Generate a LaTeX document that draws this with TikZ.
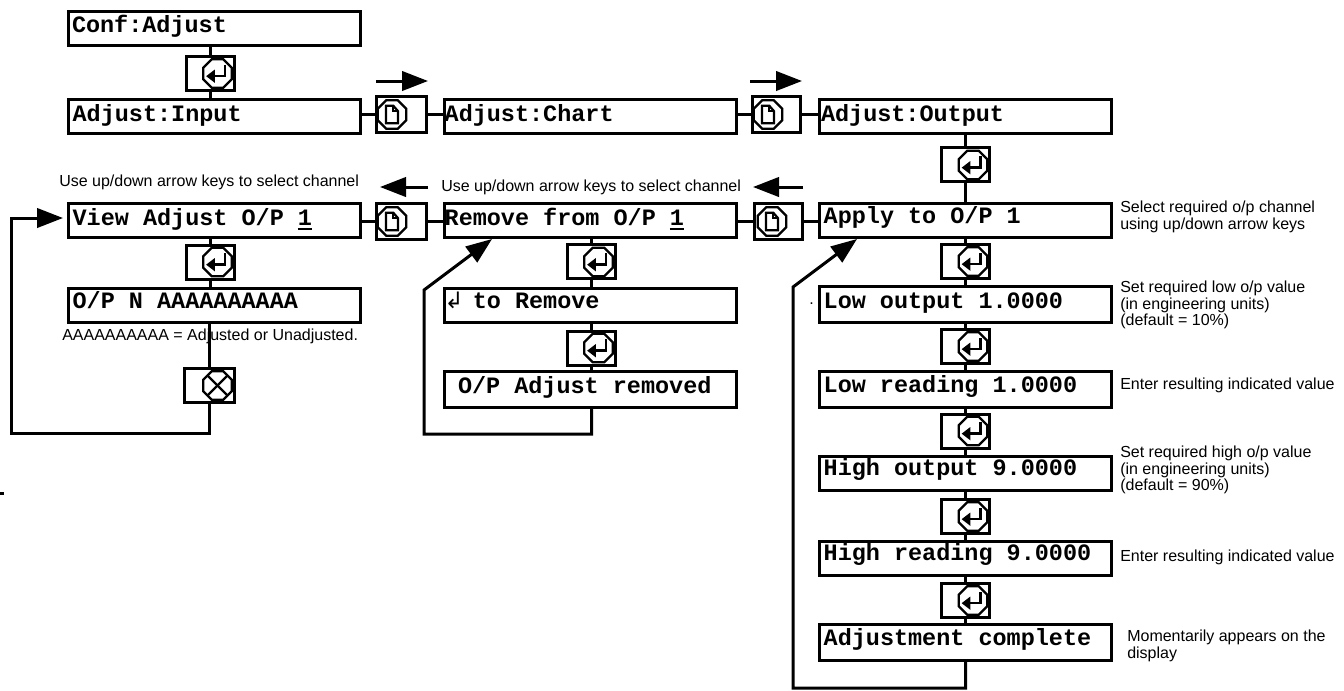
\documentclass[tikz,border=0pt]{standalone}
\usepackage{fontspec}
\setmainfont{Liberation Sans}
\setmonofont{Liberation Mono}
\newfontfamily\symfont{DejaVu Sans}
\usetikzlibrary{arrows.meta, shapes.geometric}
\newcommand{\chanone}{\rlap{\rule[-4pt]{10.5pt}{1.7pt}}1}
\begin{document}
\begin{tikzpicture}[
        x=0.75pt, y=-0.75pt,
        disp_box/.style={rectangle, draw=black, line width=2.25pt, minimum height=25.5pt, inner sep=0pt, text width=219pt, align=left, text height=12pt, text depth=6pt, font=\fontsize{17.6}{20}\selectfont\ttfamily\bfseries},
        pad/.style={execute at begin node={\spaceskip=10.56pt\relax\hspace*{#1}}},
        key_box/.style={rectangle, draw=black, line width=2.25pt, minimum width=36pt, minimum height=25.5pt, inner sep=0pt},
        key_icon/.style={regular polygon, regular polygon sides=8, draw=black, line width=1.7pt, minimum size=23pt, inner sep=0pt},
        enter_icon/.style={key_icon, path picture={
            \begin{scope}[shift={(path picture bounding box.center)}, x=1pt, y=1pt]
                \draw[line width=1.8pt] (5.5,6.5) -- (5.5,-2) -- (-3,-2);
                \fill (-8.5,-2) -- (-2,3) -- (-2,-7) -- cycle;
            \end{scope}}},
        page_icon/.style={key_icon, path picture={
            \begin{scope}[shift={(path picture bounding box.center)}, x=1pt, y=1pt]
                \draw[line width=1.7pt] (-4.5,-6.5) -- (-4.5,6.5) -- (1,6.5) -- (4.5,2.5) -- (4.5,-6.5) -- cycle;
                \draw[line width=1.7pt] (1,6.5) -- (1,2.5) -- (4.5,2.5);
            \end{scope}}},
        stop_icon/.style={key_icon, path picture={
            \draw[line width=1.7pt] (path picture bounding box.south west) -- (path picture bounding box.north east);
            \draw[line width=1.7pt] (path picture bounding box.north west) -- (path picture bounding box.south east);}},
        note/.style={anchor=west, align=left, inner sep=0pt, font=\fontsize{12}{12.6}\selectfont},
        link/.style={line width=2.25pt, draw=black},
        arrow/.style={link, -{Triangle[length=19.5pt, width=14.5pt]}}
    ]
        \useasboundingbox (0,0) rectangle (1344,690);

        % --- NODES ---
        \node[disp_box, pad=3pt] (conf) at (214,28) {Conf:Adjust};
        \node[disp_box, pad=3.5pt, text depth=4.5pt] (input) at (214,116) {Adjust:Input};
        \node[disp_box, pad=0.5pt, text depth=4.5pt] (chart) at (590,116) {Adjust:Chart};
        \node[disp_box, pad=1.5pt, text depth=4.5pt] (output) at (965,116) {Adjust:Output};
        \node[disp_box, pad=3.5pt, text depth=4.5pt] (view) at (214,220) {View Adjust O/P \chanone};
        \node[disp_box, pad=0.5pt, text depth=4.5pt] (remove) at (590,220) {Remove from O/P \chanone};
        \node[disp_box, pad=3.5pt, text depth=7.5pt] (apply) at (965,220) {Apply to O/P 1};
        \node[disp_box, pad=3.5pt, text depth=7.5pt] (opn) at (214,305) {O/P N AAAAAAAAAA};
        \node[disp_box, pad=0.5pt, text depth=7.5pt] (torem) at (590,305) {\makebox[10.56pt][l]{\symfont\mdseries\fontsize{17}{17}\selectfont ↲}\makebox[10.56pt]{}to Remove};
        \node[disp_box, pad=10.5pt, minimum height=27pt] (removed) at (590,389) {O/P Adjust removed};
        \node[disp_box, pad=3.5pt, minimum height=27pt] (lowout) at (965,304) {Low output 1.0000};
        \node[disp_box, pad=3.5pt, minimum height=27pt, text depth=7.5pt] (lowread) at (965,389) {Low reading 1.0000};
        \node[disp_box, pad=3.5pt, text depth=9pt] (highout) at (965,473.5) {High output 9.0000};
        \node[disp_box, pad=3.5pt, text depth=9pt] (highread) at (965,558.5) {High reading 9.0000};
        \node[disp_box, pad=3.5pt, minimum height=27pt, text depth=7.5pt] (complete) at (965,642.5) {Adjustment complete};

        \node[key_box] (key_conf) at (210.5,73.5) {};
        \node[key_box] (key_view) at (210.5,262) {};
        \node[key_box, minimum width=37.5pt] (key_stop) at (209.5,385.5) {};
        \node[key_box] (key_rem) at (591.5,261.5) {};
        \node[key_box] (key_done) at (591.5,348) {};
        \node[key_box] (key_out) at (965.5,164.5) {};
        \node[key_box] (key_apply) at (965.5,261.5) {};
        \node[key_box] (key_low) at (965.5,346.5) {};
        \node[key_box] (key_lowr) at (965.5,431) {};
        \node[key_box] (key_high) at (965.5,516.5) {};
        \node[key_box] (key_highr) at (965.5,600.5) {};
        \node[key_box, minimum width=37.5pt, minimum height=27pt] (page_a) at (401.5,114.5) {};
        \node[key_box, minimum height=27pt] (page_b) at (776.5,114) {};
        \node[key_box, minimum width=37.5pt, minimum height=27pt] (page_c) at (401.5,221.5) {};
        \node[key_box, minimum height=27pt] (page_d) at (778.5,221.5) {};

        \node[enter_icon] (icon_conf) at (217.5,73.5) {};
        \node[enter_icon] (icon_view) at (217.5,262) {};
        \node[stop_icon] (icon_stop) at (217.5,385.5) {};
        \node[enter_icon] (icon_rem) at (598.5,262) {};
        \node[enter_icon] (icon_done) at (598.5,348) {};
        \node[enter_icon] (icon_out) at (973,165) {};
        \node[enter_icon] (icon_apply) at (973,261.5) {};
        \node[enter_icon] (icon_low) at (973,346.5) {};
        \node[enter_icon] (icon_lowr) at (973,431) {};
        \node[enter_icon] (icon_high) at (973,516.5) {};
        \node[enter_icon] (icon_highr) at (973,600.5) {};
        \node[page_icon] (icon_a) at (392,114.5) {};
        \node[page_icon] (icon_b) at (768,114.5) {};
        \node[page_icon] (icon_c) at (392,221.5) {};
        \node[page_icon] (icon_d) at (772,221.5) {};

        \node[note] (use_left) at (59,182) {Use up/down arrow keys to select channel};
        \node[note] (use_right) at (441,187) {Use up/down arrow keys to select channel};
        \node[note] (adj_note) at (62,336) {AAAAAAAAAA = Adjusted or Unadjusted.};
        \node[note] (sel_note) at (1120,216.5) {Select required o/p channel\\using up/down arrow keys};
        \node[note] (low_note) at (1120,305) {Set required low o/p value\\(in engineering units)\\(default = 10\%)};
        \node[note] (lowr_note) at (1120,385) {Enter resulting indicated value};
        \node[note] (high_note) at (1120,470) {Set required high o/p value\\(in engineering units)\\(default = 90\%)};
        \node[note] (highr_note) at (1120,557) {Enter resulting indicated value};
        \node[note] (mom_note) at (1127,646) {Momentarily appears on the\\display};
        \node[note] (dot_mark) at (809,304) {.};

        \coordinate (top_a1) at (376,81);
        \coordinate (top_a2) at (428,81);
        \coordinate (top_b1) at (750,81);
        \coordinate (top_b2) at (802,81);
        \coordinate (back_a1) at (428,187);
        \coordinate (back_a2) at (380,187);
        \coordinate (back_b1) at (803,187);
        \coordinate (back_b2) at (753,187);
        \coordinate (loop_a) at (11,433);
        \coordinate (loop_a_tip) at (63,218);
        \coordinate (loop_b) at (424,434);
        \coordinate (loop_b_up) at (424,290);
        \coordinate (loop_b_tip) at (492,239);
        \coordinate (loop_c) at (793,688);
        \coordinate (loop_c_up) at (793,287);
        \coordinate (loop_c_tip) at (857,239);
        \coordinate (tick_a) at (0,493);
        \coordinate (tick_b) at (4,493);

        % --- CONNECTIONS ---
        \draw[link] (key_conf |- conf.south) -- (key_conf.north);
        \draw[link] (key_conf.south) -- (key_conf |- input.north);
        \draw[link] (input.east |- page_a) -- (page_a.west);
        \draw[link] (page_a.east) -- (chart.west |- page_a);
        \draw[link] (chart.east |- page_b) -- (page_b.west);
        \draw[link] (page_b.east) -- (output.west |- page_b);
        \draw[link] (view.east |- page_c) -- (page_c.west);
        \draw[link] (page_c.east) -- (remove.west |- page_c);
        \draw[link] (remove.east |- page_d) -- (page_d.west);
        \draw[link] (page_d.east) -- (apply.west |- page_d);

        \draw[link] (key_view |- view.south) -- (key_view.north);
        \draw[link] (key_view.south) -- (key_view |- opn.north);
        \draw[link] (key_stop |- opn.south) -- (key_stop.north);

        \draw[link] (key_rem |- remove.south) -- (key_rem.north);
        \draw[link] (key_rem.south) -- (key_rem |- torem.north);
        \draw[link] (key_done |- torem.south) -- (key_done.north);
        \draw[link] (key_done.south) -- (key_done |- removed.north);

        \draw[link] (key_out |- output.south) -- (key_out.north);
        \draw[link] (key_out.south) -- (key_out |- apply.north);
        \draw[link] (key_apply |- apply.south) -- (key_apply.north);
        \draw[link] (key_apply.south) -- (key_apply |- lowout.north);
        \draw[link] (key_low |- lowout.south) -- (key_low.north);
        \draw[link] (key_low.south) -- (key_low |- lowread.north);
        \draw[link] (key_lowr |- lowread.south) -- (key_lowr.north);
        \draw[link] (key_lowr.south) -- (key_lowr |- highout.north);
        \draw[link] (key_high |- highout.south) -- (key_high.north);
        \draw[link] (key_high.south) -- (key_high |- highread.north);
        \draw[link] (key_highr |- highread.south) -- (key_highr.north);
        \draw[link] (key_highr.south) -- (key_highr |- complete.north);

        \draw[arrow] (top_a1) -- (top_a2);
        \draw[arrow] (top_b1) -- (top_b2);
        \draw[arrow] (back_a1) -- (back_a2);
        \draw[arrow] (back_b1) -- (back_b2);
        \draw[arrow] (key_stop.south) |- (loop_a) |- (loop_a_tip);
        \draw[arrow] (key_done |- removed.south) |- (loop_b) -- (loop_b_up) -- (loop_b_tip);
        \draw[arrow] (key_highr |- complete.south) |- (loop_c) -- (loop_c_up) -- (loop_c_tip);
        \draw[link] (tick_a) -- (tick_b);

    \end{tikzpicture}
\end{document}
